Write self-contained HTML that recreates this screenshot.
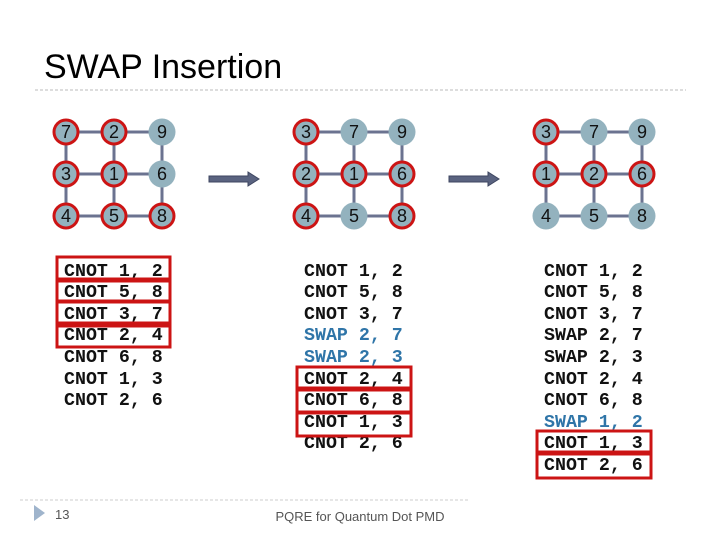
<!DOCTYPE html>
<html><head><meta charset="utf-8"><style>
html,body{margin:0;padding:0;background:#fff;width:720px;height:540px;overflow:hidden}
svg{display:block}
.t{font-family:"Liberation Mono",monospace;font-weight:bold;font-size:18.3px;fill:#111;white-space:pre}
.b{fill:#2f75a8}
.n{font-family:"Liberation Sans",sans-serif;font-size:18px;fill:#111;text-anchor:middle}
</style></head><body>
<svg width="720" height="540" viewBox="0 0 720 540" xmlns="http://www.w3.org/2000/svg">
<text x="44" y="78" font-family="Liberation Sans,sans-serif" font-size="34" fill="#000">SWAP Insertion</text>
<line x1="35" y1="90" x2="686" y2="90" stroke="#bbb" stroke-width="1" stroke-dasharray="3,2"/>
<line x1="20" y1="500" x2="470" y2="500" stroke="#ccc" stroke-width="1" stroke-dasharray="3,2"/>
<polygon points="34,505 34,521 45,513" fill="#9fb4cc"/>
<text x="55" y="519" font-family="Liberation Sans,sans-serif" font-size="13" fill="#555">13</text>
<text x="360" y="521" font-family="Liberation Sans,sans-serif" font-size="13" fill="#555" text-anchor="middle">PQRE for Quantum Dot PMD</text>

<!-- arrows -->
<g fill="#5a6380" stroke="#3e4660" stroke-width="1">
<polygon points="209,176 248,176 248,172 259,179 248,186 248,182 209,182"/>
<polygon points="449,176 488,176 488,172 499,179 488,186 488,182 449,182"/>
</g>

<!-- grids -->
<g id="grids" stroke="#6b7390" stroke-width="3">
<path d="M66,132H162M66,174H162M66,216H162M66,132V216M114,132V216M162,132V216"/>
<path d="M306,132H402M306,174H402M306,216H402M306,132V216M354,132V216M402,132V216"/>
<path d="M546,132H642M546,174H642M546,216H642M546,132V216M594,132V216M642,132V216"/>
</g>
<g fill="#93b2be" stroke="#cc1414" stroke-width="3">
<circle cx="66" cy="132" r="12"/><circle cx="114" cy="132" r="12"/><circle cx="162" cy="132" r="13.5" stroke="none"/>
<circle cx="66" cy="174" r="12"/><circle cx="114" cy="174" r="12"/><circle cx="162" cy="174" r="13.5" stroke="none"/>
<circle cx="66" cy="216" r="12"/><circle cx="114" cy="216" r="12"/><circle cx="162" cy="216" r="12"/>

<circle cx="306" cy="132" r="12"/><circle cx="354" cy="132" r="13.5" stroke="none"/><circle cx="402" cy="132" r="13.5" stroke="none"/>
<circle cx="306" cy="174" r="12"/><circle cx="354" cy="174" r="12"/><circle cx="402" cy="174" r="12"/>
<circle cx="306" cy="216" r="12"/><circle cx="354" cy="216" r="13.5" stroke="none"/><circle cx="402" cy="216" r="12"/>

<circle cx="546" cy="132" r="12"/><circle cx="594" cy="132" r="13.5" stroke="none"/><circle cx="642" cy="132" r="13.5" stroke="none"/>
<circle cx="546" cy="174" r="12"/><circle cx="594" cy="174" r="12"/><circle cx="642" cy="174" r="12"/>
<circle cx="546" cy="216" r="13.5" stroke="none"/><circle cx="594" cy="216" r="13.5" stroke="none"/><circle cx="642" cy="216" r="13.5" stroke="none"/>
</g>
<g class="n">
<text class="n" x="66" y="138">7</text><text class="n" x="114" y="138">2</text><text class="n" x="162" y="138">9</text>
<text class="n" x="66" y="180">3</text><text class="n" x="114" y="180">1</text><text class="n" x="162" y="180">6</text>
<text class="n" x="66" y="222">4</text><text class="n" x="114" y="222">5</text><text class="n" x="162" y="222">8</text>
<text class="n" x="306" y="138">3</text><text class="n" x="354" y="138">7</text><text class="n" x="402" y="138">9</text>
<text class="n" x="306" y="180">2</text><text class="n" x="354" y="180">1</text><text class="n" x="402" y="180">6</text>
<text class="n" x="306" y="222">4</text><text class="n" x="354" y="222">5</text><text class="n" x="402" y="222">8</text>
<text class="n" x="546" y="138">3</text><text class="n" x="594" y="138">7</text><text class="n" x="642" y="138">9</text>
<text class="n" x="546" y="180">1</text><text class="n" x="594" y="180">2</text><text class="n" x="642" y="180">6</text>
<text class="n" x="546" y="222">4</text><text class="n" x="594" y="222">5</text><text class="n" x="642" y="222">8</text>
</g>

<!-- code column 1 -->
<g>
<text class="t" x="64" y="276">CNOT 1, 2</text>
<text class="t" x="64" y="297">CNOT 5, 8</text>
<text class="t" x="64" y="319">CNOT 3, 7</text>
<text class="t" x="64" y="340">CNOT 2, 4</text>
<text class="t" x="64" y="362">CNOT 6, 8</text>
<text class="t" x="64" y="384">CNOT 1, 3</text>
<text class="t" x="64" y="405">CNOT 2, 6</text>
</g>
<g>
<text class="t" x="304" y="276">CNOT 1, 2</text>
<text class="t" x="304" y="297">CNOT 5, 8</text>
<text class="t" x="304" y="319">CNOT 3, 7</text>
<text class="t b" x="304" y="340">SWAP 2, 7</text>
<text class="t b" x="304" y="362">SWAP 2, 3</text>
<text class="t" x="304" y="384">CNOT 2, 4</text>
<text class="t" x="304" y="405">CNOT 6, 8</text>
<text class="t" x="304" y="427">CNOT 1, 3</text>
<text class="t" x="304" y="448">CNOT 2, 6</text>
</g>
<g>
<text class="t" x="544" y="276">CNOT 1, 2</text>
<text class="t" x="544" y="297">CNOT 5, 8</text>
<text class="t" x="544" y="319">CNOT 3, 7</text>
<text class="t" x="544" y="340">SWAP 2, 7</text>
<text class="t" x="544" y="362">SWAP 2, 3</text>
<text class="t" x="544" y="384">CNOT 2, 4</text>
<text class="t" x="544" y="405">CNOT 6, 8</text>
<text class="t b" x="544" y="427">SWAP 1, 2</text>
<text class="t" x="544" y="448">CNOT 1, 3</text>
<text class="t" x="544" y="470">CNOT 2, 6</text>
</g>

<g fill="none" stroke="#cc1414" stroke-width="3">
<rect x="57" y="257" width="113" height="22"/>
<rect x="57" y="281" width="113" height="20"/>
<rect x="57" y="302" width="113" height="21"/>
<rect x="57" y="326" width="113" height="21"/>
<rect x="297" y="367" width="114" height="21"/>
<rect x="297" y="390" width="114" height="22"/>
<rect x="297" y="413" width="114" height="23"/>
<rect x="537" y="431" width="114" height="21"/>
<rect x="537" y="454" width="114" height="24"/>
</g>
</svg>
</body></html>
